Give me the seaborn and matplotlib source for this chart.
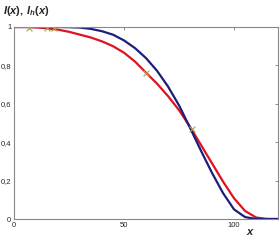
import numpy as np
import pandas as pd
import matplotlib
matplotlib.use("Agg")
import matplotlib.pyplot as plt
import seaborn as sns

x_vals = [0, 5, 10, 15, 20, 25, 30, 35, 40, 45, 50, 55, 60, 65, 70, 75, 80, 85, 90, 95, 100, 105, 110, 115, 120]
blue_I = [1.0, 1.0, 1.0, 1.0, 1.0, 0.999, 0.997, 0.99, 0.978, 0.96, 0.93, 0.89, 0.838, 0.772, 0.69, 0.592, 0.475, 0.355, 0.24, 0.135, 0.05, 0.01, 0.0, 0.0, 0.0]
red_Ih = [1.0, 1.0, 0.998, 0.993, 0.986, 0.975, 0.96, 0.945, 0.925, 0.9, 0.866, 0.82, 0.762, 0.705, 0.64, 0.567, 0.48, 0.385, 0.29, 0.195, 0.108, 0.042, 0.008, 0.0, 0.0]
marker_x = [7, 15, 18, 60, 81]
marker_y = [0.995, 0.995, 0.995, 0.76, 0.47]

x_ticks = [0, 50, 100]
y_ticks = [0, 0.2, 0.4, 0.6, 0.8, 1.0]
y_tick_labels = ["0", "0,2", "0,4", "0,6", "0,8", "1"]

sns.set_style("white")
plt.rcParams["font.family"] = ["Liberation Sans", "DejaVu Sans"]
plt.rcParams["mathtext.fontset"] = "custom"
plt.rcParams["mathtext.it"] = "Liberation Sans:italic:bold"
plt.rcParams["mathtext.rm"] = "Liberation Sans:bold"
plt.rcParams["mathtext.bf"] = "Liberation Sans:bold"

df = pd.DataFrame({"x": x_vals + x_vals,
                   "y": blue_I + red_Ih,
                   "s": ["I"] * len(x_vals) + ["Ih"] * len(x_vals)})
dm = pd.DataFrame({"x": marker_x, "y": marker_y})

fig = plt.figure(figsize=(2.8, 2.4), dpi=100)
ax = fig.add_axes([0.05, 0.0875, 0.943, 0.8])

sns.lineplot(data=df, x="x", y="y", hue="s", palette={"I": "#1c1f7a", "Ih": "#e0121e"},
             linewidth=1.6, legend=False, ax=ax, hue_order=["Ih", "I"])
sns.scatterplot(data=dm, x="x", y="y", marker="x", color="#a4a84a", s=18,
                linewidth=0.8, ax=ax, zorder=5)

ax.set_xlim(0, 120)
ax.set_ylim(0, 1)
ax.set_xticks(x_ticks)
ax.set_xticklabels([str(t) for t in x_ticks])
ax.set_yticks(y_ticks)
ax.set_yticklabels(y_tick_labels)
ax.tick_params(direction="in", length=2, width=0.6, labelsize=5.5, color="#777777",
               top=True, right=True, pad=2)
for sp in ax.spines.values():
    sp.set_visible(True)
    sp.set_color("#888888")
    sp.set_linewidth(0.8)
ax.set_xlabel("")
ax.set_ylabel("")

fig.text(0.01, 0.955, r"$I(x),\,I_h(x)$", fontsize=8, ha="left", va="center")
fig.text(0.88, 0.035, r"$x$", fontsize=8, ha="left", va="center")

fig.savefig("out.png", dpi=100)
